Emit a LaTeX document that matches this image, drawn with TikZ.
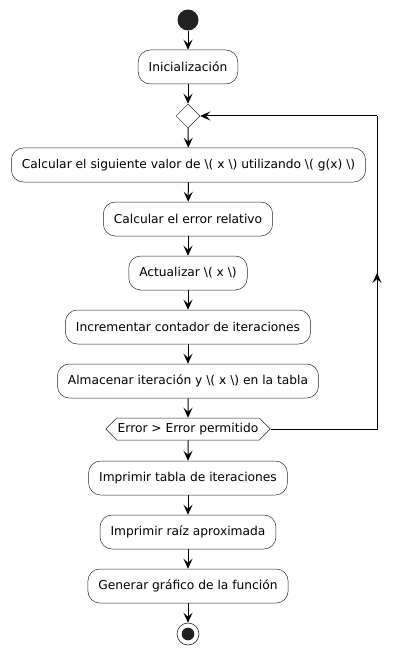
\documentclass[tikz,border=0pt]{standalone}
\usepackage{fontspec}
\setmainfont{DejaVu Sans}
\usetikzlibrary{arrows.meta,shapes.geometric,shapes.misc,shapes.symbols}
\tikzset{
  act/.style={draw=black!85, line width=0.5pt, fill=white, rounded corners=12pt,
    minimum height=34pt, inner xsep=10.5pt, inner ysep=0pt,
    font=\fontsize{12.25}{14}\selectfont},
  flow/.style={line width=1pt, -{Stealth[length=10pt,width=9pt,inset=4pt]}},
  decision/.style={draw=black!85, line width=0.5pt, fill=white, diamond,
    minimum width=24pt, minimum height=24pt, inner sep=0pt},
  hexbox/.style={draw=black!85, line width=0.5pt, fill=white,
    signal, signal to=east and west, signal pointer angle=90,
    minimum height=22pt, inner xsep=1pt, inner ysep=0pt,
    font=\fontsize{12.25}{14}\selectfont},
}
\begin{document}
\begin{tikzpicture}[x=1pt,y=-1pt]
\useasboundingbox (0,0) rectangle (402,655);
\fill[white] (0,0) rectangle (402,655);
\node[circle, fill=black!87, minimum size=21pt, inner sep=0pt] (start) at (188,20) {};
\node[act] (init) at (188,67) {Inicialización};
\node[decision] (merge) at (188,116) {};
\node[act] (calc1) at (188.5,165) {Calcular el siguiente valor de \textbackslash( x \textbackslash) utilizando \textbackslash( g(x) \textbackslash)};
\node[act] (calc2) at (188,219) {Calcular el error relativo};
\node[act] (upd) at (188,273) {Actualizar \textbackslash( x \textbackslash)};
\node[act] (inc) at (188,327) {Incrementar contador de iteraciones};
\node[act] (store) at (188,381) {Almacenar iteración y \textbackslash( x \textbackslash) en la tabla};
\node[hexbox] (cond) at (188,429) {Error > Error permitido};
\node[act] (pr1) at (188,478) {Imprimir tabla de iteraciones};
\node[act] (pr2) at (188,532) {Imprimir raíz aproximada};
\node[act] (gen) at (188,586) {Generar gráfico de la función};
\node[circle, draw=black!85, line width=0.6pt, fill=white, minimum size=22pt, inner sep=0pt] (stop) at (188,634) {};
\fill[black!87] (stop.center) circle (6.3pt);

\draw[flow] (start) -- (init);
\draw[flow] (init) -- (merge);
\draw[flow] (merge) -- (calc1);
\draw[flow] (calc1) -- (calc2);
\draw[flow] (calc2) -- (upd);
\draw[flow] (upd) -- (inc);
\draw[flow] (inc) -- (store);
\draw[flow] (store) -- (cond);
\draw[flow] (cond) -- (pr1);
\draw[flow] (pr1) -- (pr2);
\draw[flow] (pr2) -- (gen);
\draw[flow] (gen) -- (stop);
\coordinate (lb) at (377,429);
\coordinate (lt) at (377,116);
\draw[line width=1pt] (cond.east) -- (lb) -- (lt);
\draw[flow] (lt) -- (merge.east);
\draw[flow] (lb) -- (377,273);
\end{tikzpicture}
\end{document}
